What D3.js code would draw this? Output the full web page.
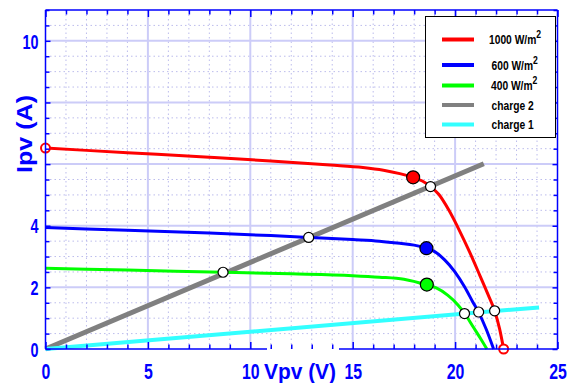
<!DOCTYPE html>
<html>
<head>
<meta charset="utf-8">
<script src="https://cdn.jsdelivr.net/npm/d3@7"></script>
<style>
  html, body { margin: 0; padding: 0; background: #fff; }
  svg { display: block; }
  .tick-num { font-family: "Liberation Sans", Arial, sans-serif; font-weight: bold; fill: #0000ff; }
  .axis-title { font-family: "Liberation Sans", Arial, sans-serif; font-weight: bold; fill: #0000ff; }
  .legend-text { font-family: "Liberation Sans", Arial, sans-serif; font-weight: bold; font-size: 12.5px; fill: #000; }
</style>
</head>
<body>
<script>
// I-V characteristics of a PV panel at three irradiance levels, with two resistive loads

// 1000 W/m2
const v1000 = [0, 4, 8, 11, 13.9, 15.5, 16.5, 17.3, 17.95, 18.4, 18.8, 19.2, 19.7, 20.2, 20.7, 21.2, 21.6, 21.93, 22.17, 22.37];
const i1000 = [6.52, 6.37, 6.22, 6.10, 5.97, 5.89, 5.80, 5.69, 5.57, 5.45, 5.27, 5.02, 4.50, 3.86, 3.16, 2.40, 1.78, 1.24, 0.66, 0];
// 600 W/m2
const v600 = [0, 4, 8, 11, 12.85, 15, 16.3, 17.3, 18.0, 18.6, 19.0, 19.49, 19.98, 20.46, 20.87, 21.15, 21.52, 21.88];
const i600 = [3.94, 3.85, 3.76, 3.68, 3.62, 3.55, 3.50, 3.43, 3.37, 3.27, 3.16, 2.89, 2.51, 2.02, 1.52, 1.19, 0.64, 0];
// 400 W/m2
const v400 = [0, 4, 8.67, 12, 15, 16.3, 17.5, 18.6, 19.08, 19.65, 20.14, 20.46, 20.87, 21.28, 21.55];
const i400 = [2.62, 2.56, 2.49, 2.44, 2.38, 2.33, 2.26, 2.08, 1.98, 1.74, 1.43, 1.16, 0.73, 0.30, 0];

// load lines (start and end points)
const vCharge2 = [0, 21.4];
const iCharge2 = [0, 6.01];
const vCharge1 = [0, 24.1];
const iCharge1 = [0, 1.35];

// maximum power points (1000, 600, 400)
const vMpp = [17.95, 18.6, 18.62];
const iMpp = [5.57, 3.27, 2.09];
// operating points on load 2 and load 1
const vOp2 = [18.8, 12.85, 8.67];
const iOp2 = [5.27, 3.62, 2.49];
const vOp1 = [20.46, 21.15, 21.93];
const iOp1 = [1.15, 1.20, 1.24];
// short-circuit / open-circuit markers of the 1000 W/m2 curve
const vEnds = [0, 22.37];
const iEnds = [6.52, 0];

const xTickLabels = [0, 5, 10, 15, 20, 25];
const yTickLabels = [0, 2, 4, 10];

const legendLabels = ["1000 W/m", "600 W/m", "400 W/m", "charge 2", "charge 1"];
const legendSup = ["2", "2", "2", "", ""];
const colors = ["#ff0000", "#0000ff", "#00ff00", "#808080", "#33ffff"];

const W = 575, H = 383;
const L = 45.5, R = 557.5, T = 10, B = 349;
const NARROW = 0.72;

const x = d3.scaleLinear().domain([0, 25]).range([L, R]);
const y = d3.scaleLinear().domain([0, 11]).range([B, T]);

const svg = d3.select("body").append("svg").attr("width", W).attr("height", H);

// grid
const grid = svg.append("g");
const xMinor = d3.range(1, 25).filter(d => d % 5 !== 0);
const xMajor = [5, 10, 15, 20];
const yMinor = d3.range(0.5, 11, 0.5).filter(d => d % 2 !== 0);
const yMajor = [2, 4, 6, 8, 10];

grid.selectAll(".vmin").data(xMinor).join("line")
  .attr("x1", d => x(d)).attr("x2", d => x(d)).attr("y1", T).attr("y2", B)
  .attr("stroke", "#bcbcec").attr("stroke-width", 1).attr("stroke-dasharray", "1.5,3");
grid.selectAll(".hmin").data(yMinor).join("line")
  .attr("x1", L).attr("x2", R).attr("y1", d => y(d)).attr("y2", d => y(d))
  .attr("stroke", "#bcbcec").attr("stroke-width", 1).attr("stroke-dasharray", "1.5,3");
grid.selectAll(".vmaj").data(xMajor).join("line")
  .attr("x1", d => x(d)).attr("x2", d => x(d)).attr("y1", T).attr("y2", B)
  .attr("stroke", "#ccccf8").attr("stroke-width", 2);
grid.selectAll(".hmaj").data(yMajor).join("line")
  .attr("x1", L).attr("x2", R).attr("y1", d => y(d)).attr("y2", d => y(d))
  .attr("stroke", "#ccccf8").attr("stroke-width", 2);

const zip = (a, b) => a.map((v, k) => [v, b[k]]);
const line = d3.line().x(d => x(d[0])).y(d => y(d[1]));
const smooth = d3.line().x(d => x(d[0])).y(d => y(d[1])).curve(d3.curveMonotoneX);

// load lines
svg.append("path").attr("d", line(zip(vCharge2, iCharge2)))
  .attr("fill", "none").attr("stroke", colors[3]).attr("stroke-width", 5);
svg.append("path").attr("d", line(zip(vCharge1, iCharge1)))
  .attr("fill", "none").attr("stroke", colors[4]).attr("stroke-width", 4);

// I-V curves
[[v1000, i1000], [v600, i600], [v400, i400]].forEach((s, k) => {
  svg.append("path").attr("d", smooth(zip(s[0], s[1])))
    .attr("fill", "none").attr("stroke", colors[k]).attr("stroke-width", 3);
});

// markers
svg.selectAll(".ends").data(zip(vEnds, iEnds)).join("circle")
  .attr("cx", d => x(d[0])).attr("cy", d => y(d[1])).attr("r", 4.5)
  .attr("fill", "#fff").attr("stroke", "#ff0000").attr("stroke-width", 2);
svg.selectAll(".op").data(zip(vOp2, iOp2).concat(zip(vOp1, iOp1))).join("circle")
  .attr("cx", d => x(d[0])).attr("cy", d => y(d[1])).attr("r", 5)
  .attr("fill", "#fff").attr("stroke", "#000").attr("stroke-width", 1.2);
svg.selectAll(".mpp").data(zip(vMpp, iMpp)).join("circle")
  .attr("cx", d => x(d[0])).attr("cy", d => y(d[1])).attr("r", 6.5)
  .attr("fill", (d, k) => colors[k]).attr("stroke", "#000").attr("stroke-width", 1.2);

// frame (bottom edge interrupted behind the x title)
const frame = svg.append("g").attr("stroke", "#0000ff").attr("stroke-width", 1.5);
frame.append("line").attr("x1", L).attr("x2", L).attr("y1", T).attr("y2", B);
frame.append("line").attr("x1", R).attr("x2", R).attr("y1", T).attr("y2", B);
frame.append("line").attr("x1", L).attr("x2", R).attr("y1", T).attr("y2", T);
frame.append("line").attr("x1", L).attr("x2", 267).attr("y1", B).attr("y2", B);
frame.append("line").attr("x1", 339).attr("x2", R).attr("y1", B).attr("y2", B);

// inward ticks on all four sides
function styleTicks(g, lenFn, sign, horiz) {
  g.select(".domain").remove();
  g.selectAll(".tick text").remove();
  g.selectAll(".tick line")
    .attr("stroke", "#0000ff").attr("stroke-width", 1.5)
    .attr(horiz ? "y2" : "x2", d => sign * lenFn(d));
}
const xTickVals = d3.range(0, 26);
const yTickVals = d3.range(0, 11.01, 0.5);
const xLen = d => (d % 5 === 0 ? 7 : 4.5);
const yLen = d => (d % 2 === 0 ? 5 : 4);

svg.append("g").attr("transform", `translate(0,${B})`)
  .call(d3.axisBottom(x).tickValues(xTickVals))
  .call(g => styleTicks(g, xLen, -1, true));
svg.append("g").attr("transform", `translate(0,${T})`)
  .call(d3.axisTop(x).tickValues(xTickVals))
  .call(g => styleTicks(g, xLen, 1, true));
svg.append("g").attr("transform", `translate(${L},0)`)
  .call(d3.axisLeft(y).tickValues(yTickVals))
  .call(g => styleTicks(g, yLen, 1, false));
svg.append("g").attr("transform", `translate(${R},0)`)
  .call(d3.axisRight(y).tickValues(yTickVals))
  .call(g => styleTicks(g, yLen, -1, false));

// tick labels (condensed bold digits)
svg.append("g").attr("transform", `translate(0,${B})`)
  .call(d3.axisBottom(x).tickValues(xTickLabels).tickSize(0).tickFormat(d3.format("d")))
  .call(g => {
    g.select(".domain").remove();
    g.selectAll(".tick line").remove();
    g.selectAll("text").attr("class", "tick-num").attr("font-size", 22)
      .attr("x", 0).attr("y", 0).attr("dy", null)
      .attr("transform", `translate(0,30) scale(${NARROW},1)`);
  });
svg.append("g").attr("transform", `translate(${L},0)`)
  .call(d3.axisLeft(y).tickValues(yTickLabels).tickSize(0).tickFormat(d3.format("d")))
  .call(g => {
    g.select(".domain").remove();
    g.selectAll(".tick line").remove();
    g.selectAll("text").attr("class", "tick-num").attr("font-size", 20)
      .attr("x", 0).attr("dy", "0.36em")
      .attr("transform", `translate(-7,0) scale(${NARROW},1)`);
  });

// axis titles
svg.append("text").attr("class", "axis-title")
  .attr("x", 300).attr("y", 379).attr("text-anchor", "middle")
  .attr("font-size", 22).attr("textLength", 72).attr("lengthAdjust", "spacingAndGlyphs")
  .text("Vpv (V)");
svg.append("text").attr("class", "axis-title")
  .attr("transform", "translate(32,134) rotate(-90)").attr("text-anchor", "middle")
  .attr("font-size", 22).attr("textLength", 78).attr("lengthAdjust", "spacingAndGlyphs")
  .text("Ipv (A)");

// legend
const lg = svg.append("g");
lg.append("rect").attr("x", 425.5).attr("y", 16.5).attr("width", 130).attr("height", 121)
  .attr("fill", "#fff").attr("stroke", "#000").attr("stroke-width", 1);
const rowY = [39.5, 65, 85.5, 105, 124.5];
const textX = [489, 491.5, 491, 491.5, 491.5];
const item = lg.selectAll(".item").data(legendLabels).join("g")
  .attr("transform", (d, k) => `translate(0,${rowY[k]})`);
item.append("line").attr("x1", 442).attr("x2", 474).attr("y1", 0).attr("y2", 0)
  .attr("stroke", (d, k) => colors[k]).attr("stroke-width", 4);
const txt = item.append("text").attr("class", "legend-text")
  .attr("transform", (d, k) => `translate(${textX[k]},4.5) scale(0.82,1)`);
txt.append("tspan").text(d => d);
txt.append("tspan").attr("dy", -6).attr("font-size", 10.5).text((d, k) => legendSup[k]);
</script>
</body>
</html>
